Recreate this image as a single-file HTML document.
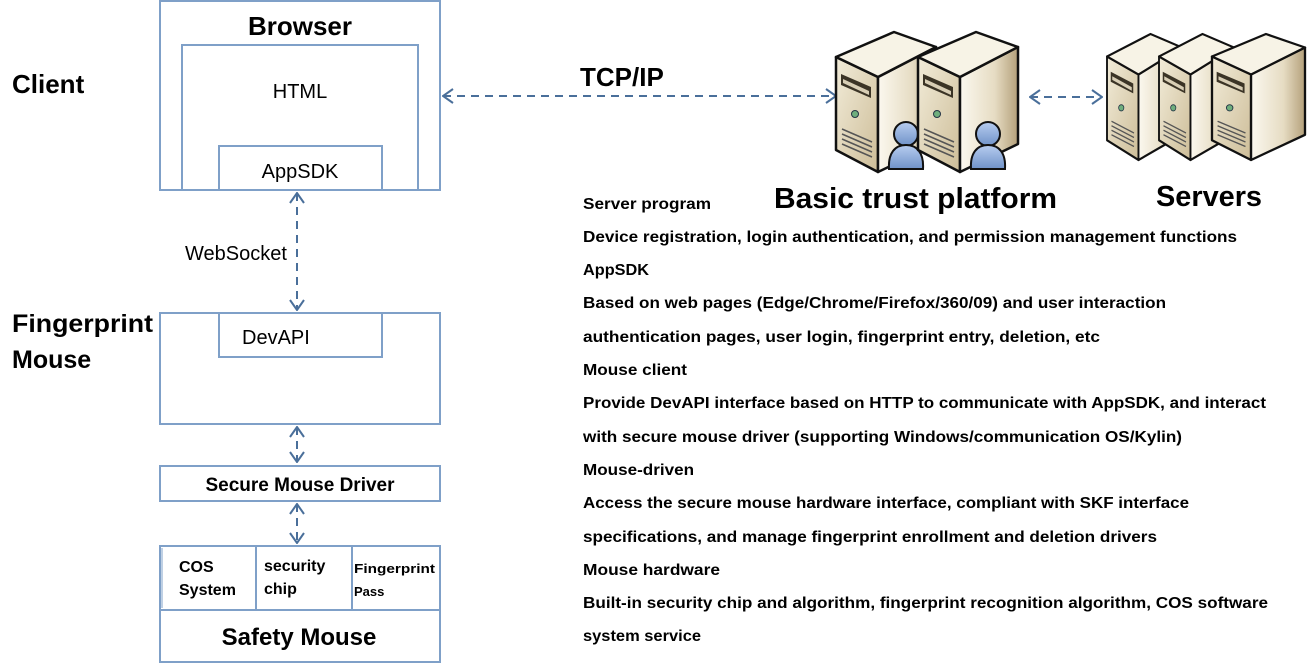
<!DOCTYPE html>
<html><head><meta charset="utf-8"><style>
html,body{margin:0;padding:0;background:#fff;}
svg{display:block;font-family:"Liberation Sans",sans-serif;}
</style></head><body>
<svg width="1309" height="664" viewBox="0 0 1309 664" xmlns="http://www.w3.org/2000/svg">
<defs>
<linearGradient id="side" x1="0" x2="1" y1="0" y2="0"><stop offset="0" stop-color="#fbf8ef"/><stop offset="0.6" stop-color="#e6dcc3"/><stop offset="1" stop-color="#b4a07a"/></linearGradient>
<linearGradient id="front" x1="0" x2="1" y1="0" y2="1"><stop offset="0" stop-color="#f2ecd9"/><stop offset="1" stop-color="#cdbd98"/></linearGradient>
<linearGradient id="person" x1="0" x2="0" y1="0" y2="1"><stop offset="0" stop-color="#b7cdf0"/><stop offset="1" stop-color="#6f92c8"/></linearGradient>
<g id="srv">
<polygon points="0,25 42,45 42,140 0,118" fill="url(#front)" stroke="#111" stroke-width="2.5" stroke-linejoin="round"/>
<polygon points="42,45 100,15 100,112 42,140" fill="url(#side)" stroke="#111" stroke-width="2.5" stroke-linejoin="round"/>
<polygon points="0,25 58,0 100,15 42,45" fill="#f7f3e6" stroke="#111" stroke-width="2.5" stroke-linejoin="round"/>
<polygon points="5,42 35,55 35,66 5,53" fill="#3b3426"/>
<polygon points="7,47 33,59 33,63 7,51" fill="#d8ceb5"/>
<circle cx="19" cy="82" r="3.5" fill="#6fae7d" stroke="#234" stroke-width="1"/>
<path d="M6,97 L36,110 M6,102 L36,115 M6,107 L36,120 M6,112 L36,125" stroke="#555" stroke-width="1.5"/>
</g>
<g id="usr">
<circle cx="18" cy="13" r="12" fill="url(#person)" stroke="#111" stroke-width="2"/>
<path d="M1,48 C0,32 7,24 18,24 C29,24 36,32 35,48 Z" fill="url(#person)" stroke="#111" stroke-width="2"/>
</g>
<marker id="ah" viewBox="0 0 12 16" refX="11" refY="8" markerWidth="12" markerHeight="16" orient="auto-start-reverse" markerUnits="userSpaceOnUse"><path d="M1,1 L11,8 L1,15" fill="none" stroke="#4a6f9a" stroke-width="2"/></marker>
</defs>

<g fill="none" stroke="#7fa0c8" stroke-width="2">
<rect x="160" y="1" width="280" height="189"/>
<rect x="182" y="45" width="236" height="145"/>
<rect x="219" y="146" width="163" height="44"/>
<rect x="160" y="313" width="280" height="111"/>
<rect x="219" y="313" width="163" height="44"/>
<rect x="160" y="466" width="280" height="35"/>
<rect x="160" y="546" width="280" height="116"/>
<line x1="160" y1="610" x2="440" y2="610"/>
<line x1="256" y1="546" x2="256" y2="610"/>
<line x1="352" y1="546" x2="352" y2="610"/>
</g>
<line x1="162" y1="548" x2="162" y2="608" stroke="#7fa0c8" stroke-width="1"/>

<g stroke="#4a6f9a" stroke-width="2" stroke-dasharray="8,6" fill="none" marker-start="url(#ah)" marker-end="url(#ah)">
<line x1="297" y1="193" x2="297" y2="310"/>
<line x1="297" y1="427" x2="297" y2="462"/>
<line x1="297" y1="504" x2="297" y2="543"/>
<line x1="443" y1="96" x2="836" y2="96"/>
<line x1="1030" y1="97" x2="1102" y2="97"/>
</g>

<use href="#srv" x="836" y="32"/>
<use href="#usr" x="888" y="121"/>
<use href="#srv" x="918" y="32"/>
<use href="#usr" x="970" y="121"/>
<g transform="translate(1107,34) scale(0.75,0.9)"><use href="#srv"/></g>
<g transform="translate(1159,34) scale(0.75,0.9)"><use href="#srv"/></g>
<g transform="translate(1212,34) scale(0.93,0.9)"><use href="#srv"/></g>

<g fill="#000">
<text x="300" y="35" font-size="26" font-weight="bold" text-anchor="middle">Browser</text>
<text x="300" y="98" font-size="20" text-anchor="middle">HTML</text>
<text x="300" y="178" font-size="20" text-anchor="middle">AppSDK</text>
<text x="12" y="93" font-size="26" font-weight="bold">Client</text>
<text x="185" y="260" font-size="20">WebSocket</text>
<text x="12" y="332" font-size="25" font-weight="bold" textLength="141" lengthAdjust="spacingAndGlyphs">Fingerprint</text>
<text x="12" y="368" font-size="25" font-weight="bold">Mouse</text>
<text x="242" y="344" font-size="20">DevAPI</text>
<text x="300" y="491" font-size="19" font-weight="bold" text-anchor="middle">Secure Mouse Driver</text>
<text x="179" y="572" font-size="16" font-weight="bold">COS</text>
<text x="179" y="595" font-size="16" font-weight="bold">System</text>
<text x="264" y="571" font-size="16" font-weight="bold">security</text>
<text x="264" y="594" font-size="16" font-weight="bold">chip</text>
<text x="354" y="573" font-size="13" font-weight="bold" textLength="81" lengthAdjust="spacingAndGlyphs">Fingerprint</text>
<text x="354" y="596" font-size="13" font-weight="bold">Pass</text>
<text x="299" y="645" font-size="24" font-weight="bold" text-anchor="middle">Safety Mouse</text>
<text x="580" y="86" font-size="26" font-weight="bold">TCP/IP</text>
<text x="774" y="208" font-size="29" font-weight="bold" textLength="283" lengthAdjust="spacingAndGlyphs">Basic trust platform</text>
<text x="1156" y="206" font-size="29" font-weight="bold" textLength="106" lengthAdjust="spacingAndGlyphs">Servers</text>
</g>
<g fill="#000" font-size="16" font-weight="bold">
<text x="583" y="209" textLength="128" lengthAdjust="spacingAndGlyphs">Server program</text>
<text x="583" y="242" textLength="654" lengthAdjust="spacingAndGlyphs">Device registration, login authentication, and permission management functions</text>
<text x="583" y="275" textLength="66" lengthAdjust="spacingAndGlyphs">AppSDK</text>
<text x="583" y="308" textLength="583" lengthAdjust="spacingAndGlyphs">Based on web pages (Edge/Chrome/Firefox/360/09) and user interaction</text>
<text x="583" y="342" textLength="517" lengthAdjust="spacingAndGlyphs">authentication pages, user login, fingerprint entry, deletion, etc</text>
<text x="583" y="375" textLength="104" lengthAdjust="spacingAndGlyphs">Mouse client</text>
<text x="583" y="408" textLength="683" lengthAdjust="spacingAndGlyphs">Provide DevAPI interface based on HTTP to communicate with AppSDK, and interact</text>
<text x="583" y="442" textLength="599" lengthAdjust="spacingAndGlyphs">with secure mouse driver (supporting Windows/communication OS/Kylin)</text>
<text x="583" y="475" textLength="111" lengthAdjust="spacingAndGlyphs">Mouse-driven</text>
<text x="583" y="508" textLength="606" lengthAdjust="spacingAndGlyphs">Access the secure mouse hardware interface, compliant with SKF interface</text>
<text x="583" y="542" textLength="574" lengthAdjust="spacingAndGlyphs">specifications, and manage fingerprint enrollment and deletion drivers</text>
<text x="583" y="575" textLength="137" lengthAdjust="spacingAndGlyphs">Mouse hardware</text>
<text x="583" y="608" textLength="685" lengthAdjust="spacingAndGlyphs">Built-in security chip and algorithm, fingerprint recognition algorithm, COS software</text>
<text x="583" y="641" textLength="118" lengthAdjust="spacingAndGlyphs">system service</text>
</g>
</svg>
</body></html>
